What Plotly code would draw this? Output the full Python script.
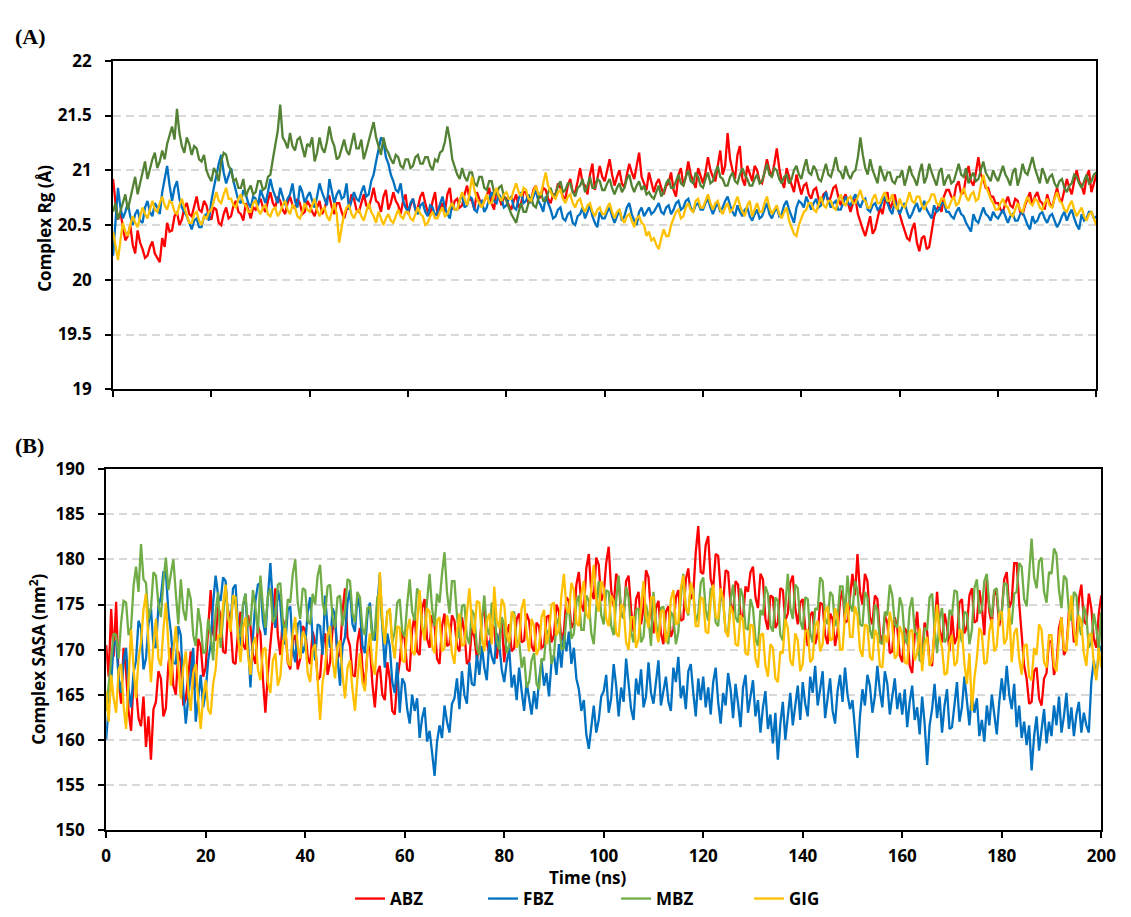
import plotly.graph_objects as go

# ---------------- data (sampled every 0.5 ns, 0 -> 200 ns) ----------------
STEP_NS = 0.5

abz_rg = [
    20.92, 20.70, 20.55, 20.62, 20.48, 20.36, 20.40, 20.50, 20.32, 20.24, 20.45, 20.34, 20.28, 20.20, 20.22, 20.30, 20.35, 20.24, 20.20, 20.16,
    20.38, 20.30, 20.52, 20.44, 20.45, 20.58, 20.62, 20.50, 20.55, 20.66, 20.70, 20.60, 20.58, 20.68, 20.76, 20.64, 20.62, 20.72, 20.68, 20.58,
    20.55, 20.66, 20.64, 20.52, 20.50, 20.60, 20.66, 20.56, 20.58, 20.68, 20.72, 20.62, 20.60, 20.54, 20.70, 20.64, 20.56, 20.66, 20.64, 20.70,
    20.74, 20.66, 20.62, 20.72, 20.80, 20.70, 20.66, 20.76, 20.72, 20.64, 20.60, 20.70, 20.76, 20.68, 20.65, 20.74, 20.70, 20.60, 20.62, 20.72,
    20.68, 20.62, 20.58, 20.66, 20.72, 20.60, 20.64, 20.74, 20.76, 20.66, 20.60, 20.70, 20.70, 20.62, 20.56, 20.64, 20.66, 20.78, 20.74, 20.64,
    20.62, 20.70, 20.78, 20.68, 20.66, 20.74, 20.84, 20.72, 20.70, 20.62, 20.76, 20.82, 20.64, 20.70, 20.80, 20.72, 20.68, 20.60, 20.72, 20.78,
    20.60, 20.68, 20.74, 20.64, 20.66, 20.76, 20.80, 20.70, 20.62, 20.58, 20.72, 20.80, 20.58, 20.66, 20.70, 20.62, 20.78, 20.84, 20.64, 20.72,
    20.74, 20.66, 20.68, 20.78, 20.86, 20.74, 20.72, 20.64, 20.80, 20.74, 20.66, 20.72, 20.76, 20.84, 20.70, 20.64, 20.82, 20.76, 20.68, 20.76,
    20.74, 20.68, 20.64, 20.72, 20.78, 20.66, 20.70, 20.80, 20.80, 20.70, 20.72, 20.82, 20.86, 20.74, 20.76, 20.84, 20.82, 20.74, 20.70, 20.78,
    20.78, 20.88, 20.84, 20.76, 20.74, 20.86, 20.92, 20.80, 20.80, 20.90, 21.02, 20.88, 20.86, 20.78, 20.96, 21.06, 20.82, 20.92, 21.04, 20.94,
    20.90, 21.00, 21.10, 20.96, 20.86, 20.94, 21.00, 20.88, 20.84, 20.96, 21.06, 20.98, 20.92, 21.04, 21.16, 20.94, 20.88, 20.82, 20.98, 20.90,
    20.80, 20.88, 20.92, 20.84, 20.78, 20.86, 20.88, 20.98, 20.82, 20.76, 20.96, 21.02, 20.86, 20.94, 21.08, 20.96, 20.90, 20.84, 21.02, 20.94,
    20.88, 20.98, 21.12, 21.00, 20.94, 20.90, 21.06, 21.18, 20.96, 21.04, 21.34, 21.10, 21.00, 20.92, 21.14, 21.22, 20.92, 20.86, 21.04, 20.96,
    20.90, 21.04, 21.00, 20.90, 20.88, 20.98, 21.10, 21.00, 20.94, 21.06, 21.20, 21.02, 20.90, 20.84, 21.02, 20.94, 20.86, 20.80, 20.96, 20.86,
    20.78, 20.86, 20.88, 20.78, 20.74, 20.82, 20.84, 20.74, 20.70, 20.78, 20.80, 20.70, 20.76, 20.84, 20.86, 20.76, 20.68, 20.74, 20.78, 20.70,
    20.62, 20.70, 20.74, 20.60, 20.52, 20.46, 20.40, 20.50, 20.58, 20.42, 20.46, 20.56, 20.66, 20.60, 20.72, 20.80, 20.64, 20.70, 20.78, 20.66,
    20.60, 20.52, 20.44, 20.38, 20.36, 20.46, 20.52, 20.34, 20.26, 20.38, 20.40, 20.28, 20.30, 20.44, 20.58, 20.64, 20.68, 20.62, 20.76, 20.82,
    20.82, 20.76, 20.74, 20.86, 20.90, 20.78, 20.80, 20.94, 21.04, 20.90, 20.86, 20.98, 21.12, 20.96, 20.92, 20.84, 20.84, 20.76, 20.76, 20.70,
    20.70, 20.64, 20.62, 20.70, 20.76, 20.68, 20.66, 20.74, 20.72, 20.62, 20.60, 20.68, 20.74, 20.80, 20.68, 20.76, 20.80, 20.72, 20.70, 20.64,
    20.78, 20.70, 20.66, 20.76, 20.84, 20.74, 20.72, 20.82, 20.92, 20.84, 20.78, 20.90, 21.00, 20.90, 20.86, 20.78, 20.94, 21.00, 20.80, 20.88,
    20.96]

fbz_rg = [
    20.22, 20.50, 20.84, 20.66, 20.56, 20.62, 20.70, 20.58, 20.50, 20.60, 20.64, 20.54, 20.52, 20.66, 20.72, 20.62, 20.58, 20.70, 20.66, 20.60,
    20.80, 20.92, 21.04, 20.86, 20.72, 20.84, 20.90, 20.74, 20.66, 20.62, 20.58, 20.52, 20.46, 20.54, 20.56, 20.48, 20.48, 20.58, 20.60, 20.54,
    20.72, 20.84, 20.96, 21.06, 21.14, 20.98, 20.88, 20.96, 21.02, 20.90, 20.80, 20.72, 20.70, 20.82, 20.78, 20.70, 20.66, 20.76, 20.74, 20.68,
    20.82, 20.76, 20.70, 20.80, 20.92, 20.82, 20.76, 20.70, 20.84, 20.76, 20.68, 20.74, 20.78, 20.88, 20.72, 20.66, 20.86, 20.80, 20.70, 20.76,
    20.80, 20.72, 20.66, 20.76, 20.88, 20.80, 20.74, 20.68, 20.92, 20.82, 20.70, 20.78, 20.82, 20.74, 20.76, 20.88, 20.64, 20.72, 20.80, 20.74,
    20.72, 20.80, 20.86, 20.76, 20.78, 20.90, 20.96, 21.08, 21.18, 21.30, 21.26, 21.12, 21.06, 20.96, 20.90, 20.82, 20.80, 20.88, 20.72, 20.66,
    20.62, 20.70, 20.74, 20.64, 20.60, 20.68, 20.70, 20.62, 20.58, 20.68, 20.66, 20.58, 20.62, 20.70, 20.76, 20.66, 20.60, 20.56, 20.70, 20.64,
    20.64, 20.72, 20.78, 20.66, 20.68, 20.76, 20.74, 20.64, 20.62, 20.70, 20.72, 20.62, 20.66, 20.74, 20.80, 20.72, 20.70, 20.78, 20.74, 20.66,
    20.68, 20.74, 20.76, 20.66, 20.64, 20.74, 20.80, 20.70, 20.72, 20.78, 20.70, 20.76, 20.82, 20.72, 20.68, 20.62, 20.76, 20.70, 20.64, 20.56,
    20.58, 20.64, 20.66, 20.56, 20.54, 20.60, 20.62, 20.52, 20.50, 20.58, 20.60, 20.66, 20.56, 20.62, 20.68, 20.58, 20.52, 20.48, 20.62, 20.56,
    20.56, 20.62, 20.66, 20.58, 20.52, 20.58, 20.64, 20.54, 20.58, 20.66, 20.70, 20.60, 20.54, 20.50, 20.62, 20.66, 20.58, 20.62, 20.66, 20.60,
    20.62, 20.66, 20.70, 20.62, 20.60, 20.66, 20.68, 20.60, 20.64, 20.70, 20.72, 20.64, 20.66, 20.72, 20.74, 20.66, 20.62, 20.68, 20.70, 20.64,
    20.64, 20.70, 20.74, 20.66, 20.60, 20.66, 20.70, 20.62, 20.66, 20.72, 20.76, 20.68, 20.62, 20.58, 20.68, 20.62, 20.58, 20.64, 20.66, 20.58,
    20.54, 20.60, 20.64, 20.56, 20.58, 20.64, 20.70, 20.60, 20.56, 20.62, 20.66, 20.58, 20.60, 20.68, 20.72, 20.64, 20.58, 20.52, 20.66, 20.72,
    20.70, 20.66, 20.76, 20.70, 20.64, 20.70, 20.74, 20.66, 20.68, 20.74, 20.80, 20.72, 20.66, 20.70, 20.72, 20.64, 20.64, 20.70, 20.76, 20.70,
    20.68, 20.74, 20.78, 20.70, 20.66, 20.72, 20.74, 20.64, 20.62, 20.68, 20.70, 20.64, 20.66, 20.72, 20.76, 20.70, 20.64, 20.60, 20.72, 20.66,
    20.60, 20.66, 20.70, 20.62, 20.56, 20.60, 20.66, 20.70, 20.62, 20.66, 20.72, 20.64, 20.60, 20.56, 20.68, 20.62, 20.64, 20.70, 20.70, 20.62,
    20.62, 20.58, 20.56, 20.62, 20.66, 20.60, 20.58, 20.52, 20.48, 20.44, 20.60, 20.54, 20.52, 20.60, 20.66, 20.60, 20.58, 20.54, 20.62, 20.58,
    20.56, 20.60, 20.64, 20.58, 20.52, 20.58, 20.60, 20.54, 20.54, 20.60, 20.62, 20.56, 20.50, 20.46, 20.58, 20.52, 20.54, 20.60, 20.62, 20.56,
    20.52, 20.58, 20.60, 20.54, 20.48, 20.52, 20.58, 20.62, 20.54, 20.60, 20.64, 20.56, 20.50, 20.46, 20.60, 20.54, 20.56, 20.62, 20.62, 20.56,
    20.58]

mbz_rg = [
    20.62, 20.70, 20.55, 20.62, 20.70, 20.78, 20.64, 20.74, 20.86, 20.94, 20.78, 20.88, 21.00, 21.08, 20.92, 21.02, 21.10, 21.16, 21.02, 21.08,
    21.18, 21.10, 21.24, 21.32, 21.40, 21.28, 21.56, 21.34, 21.22, 21.16, 21.30, 21.24, 21.14, 21.22, 21.20, 21.10, 21.08, 21.14, 21.00, 20.94,
    20.90, 21.02, 20.98, 20.90, 21.08, 21.16, 21.14, 21.04, 21.00, 20.90, 20.92, 20.84, 20.84, 20.92, 20.76, 20.82, 20.86, 20.78, 20.80, 20.90,
    20.90, 20.82, 20.84, 20.94, 20.96, 21.10, 21.24, 21.36, 21.60, 21.30, 21.26, 21.20, 21.34, 21.22, 21.18, 21.28, 21.30, 21.20, 21.12, 21.24,
    21.22, 21.30, 21.08, 21.16, 21.30, 21.20, 21.16, 21.26, 21.40, 21.28, 21.22, 21.10, 21.12, 21.20, 21.28, 21.18, 21.14, 21.24, 21.34, 21.20,
    21.20, 21.28, 21.10, 21.18, 21.26, 21.36, 21.44, 21.30, 21.22, 21.14, 21.30, 21.20, 21.16, 21.10, 21.06, 21.14, 21.12, 21.04, 21.02, 21.10,
    21.10, 21.02, 21.04, 21.12, 21.14, 21.06, 21.06, 21.12, 21.12, 21.04, 21.00, 21.10, 21.08, 21.16, 21.18, 21.26, 21.40, 21.28, 21.10, 21.02,
    20.96, 20.92, 21.02, 20.94, 20.90, 20.98, 20.98, 20.88, 20.86, 20.94, 20.94, 20.84, 20.82, 20.90, 20.90, 20.80, 20.78, 20.84, 20.86, 20.76,
    20.72, 20.66, 20.60, 20.56, 20.52, 20.62, 20.70, 20.62, 20.62, 20.70, 20.76, 20.68, 20.66, 20.74, 20.80, 20.72, 20.72, 20.80, 20.84, 20.76,
    20.78, 20.86, 20.90, 20.80, 20.82, 20.88, 20.88, 20.80, 20.76, 20.84, 20.86, 20.92, 20.80, 20.86, 20.94, 20.84, 20.84, 20.92, 20.90, 20.82,
    20.82, 20.88, 20.92, 20.84, 20.78, 20.84, 20.88, 20.80, 20.84, 20.92, 20.96, 20.86, 20.80, 20.86, 20.90, 20.82, 20.86, 20.78, 20.80, 20.76,
    20.74, 20.80, 20.86, 20.76, 20.80, 20.88, 20.92, 20.84, 20.84, 20.90, 20.96, 20.88, 20.86, 20.94, 21.00, 20.90, 20.88, 20.98, 20.94, 20.86,
    20.84, 20.92, 20.98, 20.88, 20.90, 20.98, 21.04, 20.94, 20.92, 20.86, 20.86, 20.94, 20.98, 20.90, 20.88, 20.96, 21.02, 20.96, 20.92, 20.86,
    20.86, 20.92, 20.96, 20.88, 20.90, 20.98, 21.06, 20.96, 20.94, 21.02, 21.00, 20.92, 20.88, 20.94, 20.96, 20.88, 20.92, 21.00, 21.04, 20.96,
    20.92, 21.02, 21.10, 20.98, 20.96, 21.04, 21.00, 20.92, 20.90, 20.98, 21.06, 20.96, 20.94, 21.02, 21.12, 21.00, 20.98, 20.92, 21.04, 20.96,
    20.92, 20.98, 21.00, 21.12, 21.30, 21.14, 21.02, 20.96, 21.10, 21.00, 20.94, 20.88, 21.04, 20.96, 20.90, 20.98, 20.98, 20.90, 20.88, 20.94,
    20.94, 21.00, 20.86, 20.94, 21.04, 20.96, 20.92, 20.86, 20.98, 21.06, 20.88, 20.94, 21.06, 20.98, 20.92, 20.86, 20.98, 21.02, 20.86, 20.92,
    20.96, 20.88, 20.90, 20.98, 21.06, 20.96, 20.94, 21.02, 20.88, 20.94, 20.98, 20.90, 20.92, 21.00, 21.08, 20.98, 20.94, 20.90, 21.00, 20.94,
    20.90, 20.98, 21.04, 20.96, 20.92, 20.86, 20.98, 21.02, 20.86, 20.94, 21.06, 20.98, 20.96, 21.04, 21.12, 21.02, 20.94, 20.88, 21.02, 20.96,
    20.88, 20.94, 20.96, 20.88, 20.84, 20.90, 20.92, 20.84, 20.80, 20.86, 20.88, 20.96, 20.94, 20.88, 20.84, 20.90, 20.96, 20.88, 20.90, 20.96,
    20.98]

gig_rg = [
    20.44, 20.30, 20.18, 20.36, 20.52, 20.44, 20.40, 20.50, 20.58, 20.52, 20.48, 20.58, 20.66, 20.60, 20.56, 20.64, 20.72, 20.64, 20.62, 20.70,
    20.76, 20.68, 20.64, 20.72, 20.70, 20.62, 20.60, 20.68, 20.74, 20.66, 20.58, 20.52, 20.52, 20.60, 20.62, 20.54, 20.50, 20.58, 20.56, 20.62,
    20.64, 20.72, 20.80, 20.72, 20.70, 20.78, 20.84, 20.74, 20.74, 20.68, 20.66, 20.74, 20.78, 20.70, 20.68, 20.62, 20.62, 20.70, 20.72, 20.64,
    20.60, 20.66, 20.68, 20.60, 20.58, 20.64, 20.66, 20.58, 20.62, 20.68, 20.72, 20.64, 20.60, 20.68, 20.66, 20.58, 20.56, 20.62, 20.70, 20.64,
    20.62, 20.68, 20.74, 20.64, 20.58, 20.64, 20.66, 20.58, 20.54, 20.62, 20.70, 20.60, 20.34, 20.48, 20.60, 20.66, 20.68, 20.60, 20.56, 20.62,
    20.64, 20.58, 20.54, 20.62, 20.70, 20.62, 20.58, 20.52, 20.62, 20.56, 20.50, 20.56, 20.60, 20.54, 20.52, 20.58, 20.64, 20.58, 20.56, 20.62,
    20.62, 20.56, 20.54, 20.60, 20.66, 20.60, 20.58, 20.50, 20.52, 20.58, 20.62, 20.56, 20.56, 20.62, 20.66, 20.58, 20.60, 20.66, 20.70, 20.64,
    20.64, 20.72, 20.80, 20.74, 20.68, 20.78, 20.94, 20.82, 20.74, 20.70, 20.66, 20.72, 20.78, 20.70, 20.70, 20.78, 20.84, 20.76, 20.72, 20.78,
    20.80, 20.74, 20.74, 20.82, 20.88, 20.80, 20.76, 20.84, 20.82, 20.74, 20.72, 20.80, 20.86, 20.78, 20.78, 20.88, 20.98, 20.86, 20.80, 20.76,
    20.74, 20.80, 20.82, 20.74, 20.70, 20.76, 20.78, 20.70, 20.66, 20.72, 20.74, 20.66, 20.62, 20.68, 20.70, 20.62, 20.58, 20.64, 20.66, 20.60,
    20.60, 20.66, 20.70, 20.62, 20.56, 20.62, 20.64, 20.56, 20.52, 20.58, 20.60, 20.54, 20.48, 20.56, 20.58, 20.52, 20.50, 20.40, 20.44, 20.36,
    20.38, 20.32, 20.28, 20.38, 20.46, 20.40, 20.40, 20.50, 20.56, 20.62, 20.64, 20.56, 20.58, 20.66, 20.70, 20.64, 20.62, 20.72, 20.74, 20.66,
    20.66, 20.72, 20.78, 20.70, 20.64, 20.70, 20.72, 20.64, 20.60, 20.66, 20.70, 20.62, 20.64, 20.70, 20.76, 20.68, 20.62, 20.58, 20.68, 20.72,
    20.58, 20.64, 20.70, 20.62, 20.62, 20.70, 20.76, 20.66, 20.60, 20.64, 20.68, 20.60, 20.56, 20.62, 20.66, 20.54, 20.48, 20.42, 20.40, 20.50,
    20.56, 20.62, 20.64, 20.70, 20.70, 20.64, 20.62, 20.70, 20.76, 20.68, 20.66, 20.72, 20.72, 20.66, 20.64, 20.72, 20.78, 20.70, 20.68, 20.74,
    20.76, 20.70, 20.70, 20.76, 20.82, 20.74, 20.72, 20.66, 20.66, 20.74, 20.78, 20.70, 20.70, 20.76, 20.80, 20.72, 20.72, 20.78, 20.68, 20.64,
    20.74, 20.68, 20.66, 20.72, 20.80, 20.72, 20.70, 20.76, 20.76, 20.68, 20.64, 20.70, 20.72, 20.78, 20.78, 20.70, 20.68, 20.74, 20.74, 20.66,
    20.66, 20.72, 20.76, 20.68, 20.70, 20.78, 20.84, 20.76, 20.72, 20.78, 20.80, 20.72, 20.74, 20.86, 20.96, 20.86, 20.80, 20.74, 20.70, 20.64,
    20.64, 20.70, 20.74, 20.68, 20.66, 20.60, 20.58, 20.64, 20.70, 20.64, 20.62, 20.70, 20.76, 20.70, 20.68, 20.74, 20.72, 20.66, 20.64, 20.70,
    20.74, 20.68, 20.66, 20.74, 20.80, 20.72, 20.70, 20.64, 20.62, 20.68, 20.72, 20.64, 20.58, 20.62, 20.66, 20.58, 20.54, 20.60, 20.62, 20.56,
    20.50]

abz_sasa = [
    170.5, 167.0, 174.5, 169.2, 175.3, 166.8, 164.0, 170.2, 167.5, 163.2, 161.0, 166.4, 165.8, 162.4, 161.5, 164.8, 159.2, 162.6, 157.8, 163.4,
    164.2, 167.6, 166.8, 162.6, 163.5, 168.4, 170.2, 166.0, 165.0, 169.8, 168.6, 163.8, 164.5, 167.2, 169.8, 165.6, 166.2, 171.2, 170.4, 167.0,
    168.0, 172.4, 176.6, 171.8, 171.0, 174.8, 173.8, 169.8, 169.6, 174.4, 172.8, 168.6, 168.4, 172.0, 174.2, 170.6, 170.0, 173.8, 172.6, 169.4,
    168.4, 172.6, 171.8, 166.8, 163.0, 167.4, 170.6, 174.2, 176.8, 171.6, 169.4, 173.4, 172.4, 168.6, 167.8, 171.0, 171.6, 167.8, 169.0, 172.6,
    172.2, 169.2, 168.4, 172.0, 170.8, 166.6, 167.0, 170.6, 171.8, 167.2, 168.6, 172.2, 173.4, 169.0, 169.6, 174.2, 176.8, 171.4, 170.4, 167.2,
    167.0, 170.8, 172.4, 168.0, 165.8, 169.8, 170.6, 166.2, 163.6, 167.4, 168.2, 165.0, 164.4, 168.6, 166.8, 163.2, 162.8, 166.6, 168.6, 172.0,
    171.2, 167.8, 167.6, 172.2, 173.8, 169.8, 169.4, 174.6, 175.6, 171.2, 170.2, 173.8, 172.8, 169.0, 168.4, 172.6, 174.0, 170.4, 170.6, 173.8,
    173.2, 170.4, 169.8, 173.6, 172.0, 168.4, 168.8, 172.4, 171.4, 169.0, 170.0, 173.6, 174.6, 170.8, 169.6, 172.8, 172.4, 169.0, 171.0, 173.4,
    168.6, 171.6, 172.8, 169.8, 170.2, 173.4, 174.0, 170.8, 171.0, 174.0, 173.2, 170.4, 169.8, 173.0, 172.6, 170.2, 170.4, 173.6, 173.8, 170.8,
    171.6, 175.0, 174.2, 171.0, 172.0, 175.8, 175.4, 172.4, 173.0, 177.2, 178.6, 175.0, 174.2, 179.0, 180.6, 176.4, 175.6, 180.2, 179.4, 175.4,
    176.2, 179.6, 181.4, 176.6, 174.8, 178.4, 177.8, 173.8, 173.6, 177.6, 178.2, 174.4, 172.0, 175.6, 176.4, 172.8, 174.6, 178.8, 178.0, 174.0,
    171.8, 174.6, 175.4, 171.8, 170.6, 174.2, 174.8, 171.4, 172.2, 175.8, 176.6, 173.2, 173.4, 177.8, 179.0, 175.6, 176.2, 180.8, 183.7, 178.6,
    178.4, 181.6, 182.6, 177.8, 176.8, 180.6, 180.4, 176.6, 175.2, 178.8, 178.6, 175.0, 174.0, 177.6, 177.2, 173.8, 173.6, 177.0, 176.4, 178.6,
    179.2, 175.8, 174.6, 178.4, 177.8, 173.4, 172.2, 176.0, 175.8, 172.4, 173.0, 176.8, 176.6, 173.2, 174.0, 177.4, 178.2, 174.6, 172.8, 175.2,
    175.6, 172.4, 170.4, 173.8, 174.2, 170.6, 171.8, 175.2, 175.0, 171.6, 170.6, 174.0, 173.4, 170.4, 172.0, 175.4, 176.6, 173.0, 173.2, 176.2,
    178.4, 176.0, 180.6, 176.4, 175.0, 178.4, 177.6, 173.6, 172.8, 176.0, 175.6, 171.8, 170.6, 173.8, 173.0, 169.6, 169.8, 173.6, 172.4, 169.4,
    168.6, 172.4, 171.8, 168.2, 167.4, 171.6, 174.2, 170.2, 169.6, 173.0, 172.0, 168.6, 168.2, 172.4, 176.4, 172.2, 170.8, 174.0, 172.6, 169.8,
    174.0, 170.6, 171.4, 175.2, 175.6, 171.8, 172.6, 176.0, 176.8, 173.0, 173.2, 176.6, 174.8, 171.6, 177.8, 174.2, 172.8, 176.6, 176.0, 172.6,
    174.2, 177.8, 178.6, 174.6, 175.4, 179.6, 179.6, 175.2, 171.6, 168.2, 166.8, 164.0, 164.2, 167.6, 168.0, 164.6, 163.8, 166.8, 167.4, 171.0,
    170.8, 167.2, 168.2, 172.4, 173.6, 169.4, 170.0, 174.2, 175.0, 170.8, 171.4, 175.6, 177.2, 173.2, 172.8, 176.2, 174.6, 171.2, 170.2, 174.0,
    176.0]

fbz_sasa = [
    160.0, 163.8, 166.4, 170.6, 171.0, 166.8, 165.2, 168.8, 170.2, 165.6, 163.6, 167.4, 168.8, 173.2, 172.4, 167.8, 169.0, 172.8, 174.6, 170.4,
    170.2, 174.8, 175.8, 178.6, 178.6, 174.2, 172.0, 168.6, 168.4, 172.6, 171.6, 165.4, 161.8, 164.6, 166.8, 170.2, 162.0, 165.0, 167.2, 163.6,
    165.4, 168.8, 170.6, 175.2, 178.2, 176.0, 175.4, 178.0, 177.6, 173.4, 172.8, 176.8, 177.2, 172.6, 170.4, 174.8, 176.2, 170.8, 165.8, 171.4,
    175.4, 177.2, 177.4, 173.2, 171.6, 175.8, 179.6, 175.0, 172.4, 176.6, 175.2, 171.2, 170.6, 174.4, 174.8, 170.2, 168.6, 172.8, 173.2, 169.6,
    170.4, 174.2, 175.8, 171.2, 168.8, 172.8, 172.6, 169.4, 176.0, 172.4, 170.2, 174.6, 173.8, 169.2, 166.0, 170.4, 171.4, 175.2, 176.6, 172.8,
    172.0, 175.8, 174.6, 170.4, 169.6, 173.8, 175.2, 171.6, 171.0, 174.8, 178.4, 172.6, 168.0, 171.8, 170.4, 166.4, 165.2, 168.6, 163.0, 166.8,
    166.2, 163.4, 161.8, 165.0, 163.2, 164.6, 160.2, 162.4, 163.6, 159.8, 161.0, 158.6, 156.0, 159.8, 161.6, 160.2, 163.8, 162.0, 160.8, 164.0,
    164.6, 166.8, 163.4, 167.6, 165.0, 164.0, 168.6, 166.2, 166.0, 169.4, 167.2, 170.4, 168.0, 166.6, 171.0, 169.2, 168.4, 171.8, 170.6, 167.8,
    166.4, 168.6, 170.2, 165.8, 167.2, 164.4, 168.0, 165.4, 163.2, 166.4, 164.6, 162.8, 165.4, 163.4, 166.6, 168.8, 166.0, 167.4, 164.8, 168.6,
    169.4, 167.2, 170.6, 168.0, 171.6, 169.8, 172.0, 168.4, 170.2, 166.8, 165.6, 163.2, 164.4, 160.6, 159.0, 161.6, 163.8, 160.8, 162.2, 164.8,
    165.4, 167.2, 163.0, 164.6, 168.4, 166.0, 162.6, 165.8, 164.2, 169.0, 166.2, 163.4, 162.2, 166.8, 165.0, 167.8, 163.6, 164.8, 168.6, 165.2,
    164.0, 166.6, 168.8, 163.8, 165.4, 167.0, 164.2, 163.2, 168.0, 166.4, 169.2, 164.6, 166.0, 163.4, 167.6, 168.4, 165.2, 162.6, 166.8, 164.4,
    167.0, 163.6, 165.8, 162.8, 166.4, 168.0, 164.2, 161.8, 165.2, 163.8, 167.4, 165.6, 162.4, 166.2, 164.0, 161.4, 165.8, 167.2, 163.0, 165.0,
    166.6, 162.6, 164.4, 160.8, 163.6, 165.4, 161.2, 162.8, 159.6, 163.0, 157.8, 161.8, 164.2, 160.0, 162.4, 165.2, 161.6, 163.8, 166.0, 162.2,
    166.4, 164.0, 162.6, 167.0, 165.2, 168.2, 163.8, 165.6, 167.6, 162.4, 164.8, 166.8, 163.2, 161.8, 165.4, 167.2, 164.2, 168.0, 165.0, 163.4,
    164.4, 161.2, 158.0, 162.6, 165.6, 163.8, 167.2, 166.0, 163.0, 164.8, 168.2, 165.4, 163.6, 167.6, 166.2, 162.8, 164.6, 166.8, 163.4, 165.2,
    162.8, 165.6, 161.4, 164.2, 166.0, 162.2, 163.6, 160.6, 164.8, 161.8, 157.2, 161.6, 163.4, 166.2, 162.4, 164.8, 160.8, 163.8, 165.6, 161.2,
    161.4, 164.0, 166.4, 162.0, 163.6, 167.0, 164.4, 161.6, 165.2, 163.0, 164.6, 160.4, 162.2, 159.8, 163.8, 161.6, 165.0, 163.0, 160.6, 164.2,
    166.8, 164.4, 168.2, 165.0, 163.4, 166.2, 161.4, 163.8, 160.2, 162.0, 159.4, 161.6, 156.6, 160.4, 162.6, 158.8, 161.2, 163.4, 159.6, 162.0,
    160.4, 163.8, 161.6, 164.8, 160.8, 162.6, 165.2, 161.2, 163.6, 160.4, 162.8, 164.2, 160.8, 163.0, 161.6, 160.8, 166.4, 168.8, 167.0, 169.6,
    170.4]

mbz_sasa = [
    163.2, 166.0, 168.4, 171.8, 171.6, 169.0, 173.0, 175.4, 175.2, 171.6, 172.4, 177.0, 179.2, 176.4, 181.7, 177.8, 177.4, 173.4, 174.6, 178.6,
    178.2, 175.0, 173.6, 177.6, 180.2, 176.6, 178.4, 180.0, 176.2, 172.8, 177.8, 174.4, 173.2, 176.8, 175.6, 171.6, 170.4, 174.6, 172.8, 169.6,
    169.8, 173.4, 171.6, 168.8, 174.2, 176.4, 170.2, 173.2, 177.0, 173.8, 172.6, 175.8, 175.0, 171.8, 171.4, 175.0, 176.2, 172.6, 172.8, 176.6,
    174.6, 171.8, 178.2, 174.8, 172.4, 176.0, 176.8, 173.0, 173.6, 177.2, 177.4, 173.2, 171.8, 175.6, 175.2, 178.4, 180.0, 175.2, 173.4, 176.8,
    176.6, 173.2, 172.8, 176.2, 175.0, 178.2, 179.4, 175.2, 173.8, 177.0, 177.2, 173.6, 172.4, 175.8, 176.0, 172.6, 174.2, 177.8, 177.6, 174.0,
    173.0, 176.4, 175.8, 172.4, 171.6, 174.6, 174.8, 171.0, 172.2, 175.8, 176.4, 172.6, 170.8, 174.2, 174.4, 170.8, 172.0, 175.2, 175.6, 172.0,
    171.4, 175.0, 177.8, 174.2, 173.2, 176.8, 176.0, 172.4, 171.8, 175.4, 178.4, 174.6, 172.6, 176.2, 175.2, 178.4, 180.8, 176.4, 174.0, 177.6,
    177.6, 173.8, 171.2, 174.8, 175.0, 171.4, 170.6, 174.4, 173.8, 170.2, 169.4, 173.2, 176.0, 172.4, 171.6, 175.2, 174.6, 171.0, 170.0, 173.6,
    172.8, 169.6, 170.4, 173.8, 174.2, 170.8, 171.0, 168.0, 169.2, 165.8, 166.4, 168.8, 169.6, 166.2, 165.6, 169.0, 168.8, 172.2, 171.6, 168.4,
    169.4, 172.8, 173.6, 170.0, 170.2, 173.8, 174.8, 171.2, 171.8, 175.2, 176.0, 172.2, 172.2, 176.0, 175.4, 171.8, 170.6, 174.6, 177.6, 173.8,
    172.8, 176.6, 176.4, 172.6, 171.6, 175.4, 178.2, 174.2, 173.4, 177.0, 175.8, 172.0, 170.8, 174.4, 174.6, 170.8, 171.4, 175.0, 173.6, 170.4,
    176.4, 173.0, 171.2, 174.6, 174.8, 171.4, 170.6, 174.2, 173.6, 170.6, 172.0, 175.8, 178.4, 174.6, 173.8, 177.2, 176.6, 173.0, 174.0, 177.4,
    178.0, 174.4, 173.2, 176.8, 176.6, 173.0, 172.6, 176.0, 175.4, 172.0, 171.8, 175.6, 177.2, 173.6, 173.0, 176.8, 175.8, 172.4, 172.2, 175.6,
    174.6, 171.2, 170.4, 174.4, 173.8, 177.0, 176.2, 172.6, 172.0, 175.8, 175.4, 171.6, 171.0, 174.8, 178.4, 174.6, 173.4, 177.2, 176.8, 173.2,
    172.2, 175.8, 175.6, 171.8, 170.8, 174.6, 174.4, 178.0, 177.6, 173.4, 172.8, 176.4, 176.0, 172.6, 173.4, 177.0, 177.0, 173.6, 178.2, 175.0,
    174.2, 177.6, 176.6, 172.8, 172.6, 176.4, 175.8, 172.2, 171.2, 175.0, 174.4, 170.8, 170.6, 174.2, 173.8, 177.2, 176.0, 172.8, 172.4, 175.8,
    174.8, 171.2, 170.6, 174.6, 175.8, 172.0, 171.8, 168.8, 168.6, 172.4, 172.2, 175.8, 176.2, 172.4, 169.6, 173.4, 174.6, 170.8, 171.2, 174.4,
    173.8, 176.6, 176.4, 172.2, 170.8, 174.2, 174.0, 170.6, 172.2, 176.8, 177.8, 174.0, 174.4, 177.6, 178.4, 174.8, 173.6, 176.6, 176.8, 173.2,
    174.0, 177.4, 177.2, 173.6, 172.8, 176.2, 176.4, 179.6, 179.2, 175.6, 174.8, 178.4, 182.3, 178.0, 176.8, 179.8, 180.2, 176.4, 175.2, 178.6,
    178.4, 181.2, 180.6, 176.6, 174.6, 178.2, 177.8, 174.2, 173.2, 176.4, 176.0, 172.8, 171.6, 174.8, 173.8, 170.2, 170.8, 174.0, 172.4, 169.8,
    174.2]

gig_sasa = [
    165.4, 162.0, 167.2, 164.6, 163.0, 167.8, 168.4, 163.8, 161.2, 167.0, 172.2, 168.0, 164.6, 169.0, 170.8, 174.4, 176.2, 170.8, 166.4, 170.6,
    173.4, 169.0, 168.2, 172.2, 175.2, 170.6, 166.0, 169.8, 172.6, 168.2, 164.6, 168.0, 169.8, 165.6, 163.2, 167.4, 168.4, 164.4, 161.2, 164.8,
    166.6, 163.4, 162.8, 166.2, 167.8, 171.6, 171.4, 175.0, 177.2, 173.6, 172.0, 176.0, 175.8, 171.6, 168.6, 172.4, 173.6, 169.4, 167.2, 170.6,
    171.4, 167.8, 166.6, 170.0, 170.2, 166.4, 165.2, 168.8, 169.6, 166.0, 167.0, 170.6, 172.4, 168.6, 168.2, 171.8, 173.6, 170.4, 169.0, 172.0,
    171.4, 167.4, 166.4, 170.0, 170.6, 166.6, 162.2, 166.4, 168.0, 171.6, 172.6, 168.8, 166.8, 170.4, 171.0, 167.2, 164.6, 168.0, 168.8, 165.6,
    163.2, 166.8, 169.6, 166.4, 165.4, 169.6, 171.8, 168.4, 167.2, 171.4, 178.6, 173.6, 170.6, 174.0, 174.6, 170.8, 169.0, 172.6, 172.4, 168.8,
    168.6, 172.2, 173.4, 169.8, 169.4, 173.0, 176.6, 172.6, 171.0, 174.6, 174.2, 170.4, 169.6, 173.2, 173.6, 169.8, 170.2, 173.8, 172.4, 169.6,
    168.4, 172.0, 174.0, 170.4, 170.6, 174.0, 176.8, 173.0, 171.8, 175.4, 175.2, 171.4, 169.8, 173.2, 174.0, 170.6, 177.0, 173.2, 172.4, 175.6,
    175.0, 171.6, 170.8, 174.2, 173.8, 170.2, 171.0, 174.6, 175.6, 171.8, 169.8, 173.4, 172.6, 169.4, 170.2, 173.6, 174.4, 170.6, 171.8, 175.0,
    175.2, 171.6, 172.2, 176.0, 178.4, 174.6, 174.0, 177.4, 176.6, 173.0, 172.6, 176.2, 177.6, 174.0, 173.4, 176.8, 179.4, 175.6, 174.2, 177.6,
    176.8, 173.4, 172.6, 176.0, 175.4, 171.8, 171.4, 175.0, 174.6, 170.8, 170.0, 173.6, 173.6, 170.2, 171.2, 174.8, 177.6, 173.8, 172.4, 175.8,
    175.8, 172.2, 170.8, 174.2, 174.4, 170.8, 172.0, 175.6, 176.6, 172.8, 173.0, 176.8, 178.2, 174.6, 174.0, 177.4, 176.2, 172.6, 172.6, 175.8,
    175.6, 172.0, 171.8, 175.4, 177.2, 173.6, 173.4, 176.8, 175.6, 172.0, 171.4, 174.8, 174.0, 170.6, 170.4, 173.8, 173.2, 169.6, 169.4, 172.8,
    172.6, 169.0, 168.0, 171.6, 171.8, 168.2, 167.0, 170.6, 170.2, 166.8, 166.4, 169.8, 169.6, 173.4, 172.4, 168.8, 168.2, 171.8, 171.0, 167.6,
    168.4, 172.0, 172.2, 168.6, 169.0, 172.6, 173.2, 169.8, 170.6, 174.2, 174.8, 171.0, 171.2, 174.6, 173.6, 170.0, 170.0, 173.8, 175.2, 171.4,
    171.4, 174.8, 173.8, 170.0, 169.2, 172.8, 172.6, 169.2, 168.8, 172.2, 171.6, 168.2, 168.0, 171.6, 170.8, 174.2, 172.8, 169.0, 169.4, 172.6,
    171.8, 168.6, 168.4, 172.0, 172.2, 168.8, 169.6, 172.4, 167.6, 170.6, 171.4, 168.2, 168.8, 172.0, 175.0, 171.4, 170.2, 167.2, 167.4, 170.8,
    171.6, 168.2, 168.6, 172.2, 172.0, 168.4, 166.2, 169.6, 163.2, 166.8, 169.0, 172.4, 171.8, 168.4, 168.6, 172.0, 173.4, 169.8, 170.4, 174.0,
    174.2, 170.6, 171.2, 174.6, 168.6, 171.8, 172.4, 169.0, 167.2, 170.4, 170.6, 167.0, 166.6, 170.2, 169.4, 172.8, 172.2, 168.6, 168.0, 171.6,
    171.6, 168.2, 167.6, 171.2, 173.6, 170.0, 169.8, 173.4, 176.0, 172.2, 170.4, 173.8, 173.0, 169.6, 168.2, 171.6, 171.8, 168.4, 166.6, 170.2,
    168.0]

series_names = ["ABZ", "FBZ", "MBZ", "GIG"]
rg_values = [abz_rg, fbz_rg, mbz_rg, gig_rg]
sasa_values = [abz_sasa, fbz_sasa, mbz_sasa, gig_sasa]
rg_colors = ["#FF0000", "#0070C0", "#548235", "#FFC000"]
sasa_colors = ["#FF0000", "#0070C0", "#70AD47", "#FFC000"]

x_ticks = [0, 20, 40, 60, 80, 100, 120, 140, 160, 180, 200]
rg_ticks = [19, 19.5, 20, 20.5, 21, 21.5, 22]
rg_tick_labels = ["19", "19.5", "20", "20.5", "21", "21.5", "22"]
sasa_ticks = [150, 155, 160, 165, 170, 175, 180, 185, 190]


def times(vals):
    return [round(i * STEP_NS, 2) for i in range(len(vals))]


# ---------------- figure ----------------
W, H = 1131, 917
FONT = "Open Sans"
FS = 17
LW = 2.3

fig = go.Figure()
for name, vals, col in zip(series_names, rg_values, rg_colors):
    fig.add_trace(go.Scatter(x=times(vals), y=vals, mode="lines", name=name,
                             line=dict(color=col, width=LW),
                             xaxis="x", yaxis="y", showlegend=False))
for name, vals, col in zip(series_names, sasa_values, sasa_colors):
    fig.add_trace(go.Scatter(x=times(vals), y=vals, mode="lines", name="<b>%s</b>" % name,
                             line=dict(color=col, width=LW),
                             xaxis="x2", yaxis="y2", showlegend=True))


def bold(items):
    return ["<b>%s</b>" % s for s in items]


tickfont = dict(family=FONT, size=FS, color="black")
axis_common = dict(showline=True, linecolor="black", linewidth=2, mirror=True,
                   ticks="outside", ticklen=6, tickwidth=1.5, tickcolor="black",
                   tickfont=tickfont, zeroline=False)
grid = dict(showgrid=True, gridcolor="#D9D9D9", gridwidth=1.5, griddash="8px,5px")

fig.update_layout(
    width=W, height=H,
    margin=dict(l=0, r=0, t=0, b=0),
    paper_bgcolor="white", plot_bgcolor="white",
    font=dict(family=FONT, color="black", size=FS),
    xaxis=dict(domain=[110 / W, 1111 / W], range=[0, 200], tickvals=x_ticks,
               showticklabels=False, showgrid=False, anchor="y", **axis_common),
    yaxis=dict(domain=[1 - 387 / H, 1 - 50 / H], range=[19, 22], tickvals=rg_ticks,
               ticktext=bold(rg_tick_labels), ticklabelstandoff=10, anchor="x",
               **grid, **axis_common),
    xaxis2=dict(domain=[103 / W, 1116 / W], range=[0, 200], tickvals=x_ticks,
                ticktext=bold([str(v) for v in x_ticks]),
                showgrid=False, anchor="y2", ticklabelstandoff=4, **axis_common),
    yaxis2=dict(domain=[1 - 839 / H, 1 - 469 / H], range=[150, 190], tickvals=sasa_ticks,
                ticktext=bold([str(v) for v in sasa_ticks]),
                ticklabelstandoff=10, anchor="x2", **grid, **axis_common),
    legend=dict(orientation="h", x=0.55, xanchor="center", y=1 - 910 / H, yanchor="middle",
                font=dict(family=FONT, size=FS, color="black"),
                entrywidth=88, entrywidthmode="pixels", bgcolor="rgba(0,0,0,0)"),
    showlegend=True,
)

ann_font = dict(family=FONT, size=FS, color="black")
serif = dict(family="Liberation Serif", size=22, color="black")
annotations = [
    dict(text="<b>(A)</b>", x=8 / W, y=1 - 25 / H, xanchor="left", yanchor="middle", font=serif),
    dict(text="<b>(B)</b>", x=8 / W, y=1 - 445 / H, xanchor="left", yanchor="middle", font=serif),
    dict(text="<b>Complex Rg (Å)</b>", x=40 / W, y=1 - 222 / H, textangle=-90,
         xanchor="center", yanchor="middle", font=ann_font),
    dict(text="<b>Complex SASA (nm<sup>2</sup>)</b>", x=33 / W, y=1 - 664 / H, textangle=-90,
         xanchor="center", yanchor="middle", font=ann_font),
    dict(text="<b>Time (ns)</b>", x=594 / W, y=1 - 888 / H, xanchor="center", yanchor="middle",
         font=ann_font),
]
for a in annotations:
    a.update(xref="paper", yref="paper", showarrow=False)
fig.update_layout(annotations=annotations)

fig.write_html("out.html",
               post_script="document.body.style.margin='0px';"
                           "document.body.style.overflow='hidden';")
